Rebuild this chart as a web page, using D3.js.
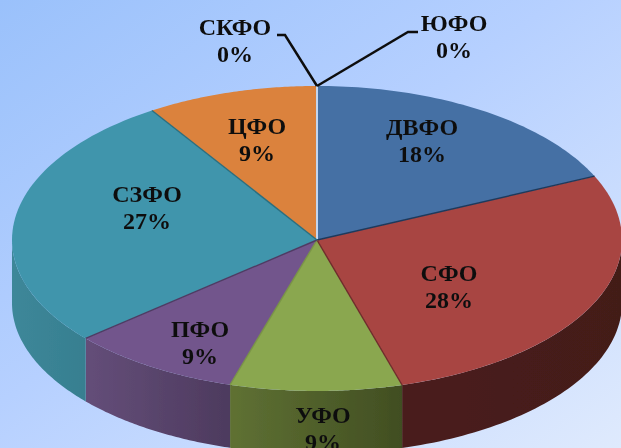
<!doctype html>
<html lang="ru">
<head>
  <meta charset="utf-8">
  <title>pie</title>
  <style>
    html, body { margin: 0; padding: 0; overflow: hidden; }
    svg { display: block; }
    text { font-family: "Liberation Serif", serif; font-weight: bold; font-size: 24px; fill: #111; text-anchor: middle; }
  </style>
</head>
<body>
  <div class="chart"></div>
  <script src="https://d3js.org/d3.v7.min.js"></script>
  <script>
    'use strict';

    const categories = ['ДВФО', 'СФО', 'УФО', 'ПФО', 'СЗФО', 'ЦФО', 'СКФО', 'ЮФО'];
    // printed labels
    const shares = [18, 28, 9, 9, 27, 9, 0, 0];
    // slice sizes as measured on the picture, a bit finer than the labels
    const sliceSizes = [18.2, 27.3, 9.1, 9.1, 27.2, 9.1, 0, 0];

    const topColors = ['#4570a4', '#a84543', '#8aa74f', '#72558c', '#4095ac', '#db823c', '#db823c', '#db823c'];
    const wallColors = {
      'СФО': ['#4a1e1b', '#431b19'],
      'УФО': ['#5f7133', '#414e22'],
      'ПФО': ['#644e79', '#4d3a5e'],
      'СЗФО': ['#3d8799', '#377f90']
    };
    const edgeColors = ['#c4d6ef', '#1f3a5c', '#6e2c2a', '#7a9446', '#4f3b63', '#2b6f80', '#8a4a1e'];
    const labelPos = [[422, 127], [449, 273], [323, 415], [200, 329], [147, 194], [257, 126], [235, 27], [454, 23]];

    const width = 621, height = 448;
    const cx = 317, cy = 240, rx = 305, ryBack = 154, ryFront = 151, depth = 63;

    const svg = d3.select('.chart').append('svg')
      .attr('width', width)
      .attr('height', height);

    const defs = svg.append('defs');
    const bg = defs.append('linearGradient').attr('id', 'bg')
      .attr('x1', 0).attr('y1', 0).attr('x2', 1).attr('y2', 1);
    bg.append('stop').attr('offset', '0%').attr('stop-color', '#9ac1fb');
    bg.append('stop').attr('offset', '45%').attr('stop-color', '#b6d0ff');
    bg.append('stop').attr('offset', '100%').attr('stop-color', '#dfeafd');

    // the reference is a slightly soft screenshot
    defs.append('filter').attr('id', 'soft')
      .append('feGaussianBlur').attr('stdDeviation', 0.45);

    svg.append('rect').attr('width', width).attr('height', height).attr('fill', 'url(#bg)');

    const root = svg.append('g').attr('filter', 'url(#soft)');

    const pie = d3.pie().sort(null).value(d => d)
      .startAngle(0).endAngle(2 * Math.PI);
    const arcs = pie(sliceSizes);

    // rim point for a pie angle, 0 is straight up; the near half is a little flatter
    const px = a => cx + rx * Math.sin(a);
    const py = a => {
      const c = Math.cos(a);
      return cy - (c > 0 ? ryBack : ryFront) * c;
    };

    function rimPoints(a0, a1) {
      return d3.range(0, 61).map(i => {
        const a = a0 + (a1 - a0) * i / 60;
        return [px(a), py(a)];
      });
    }

    const line = d3.line();

    // walls, only the front half of the rim shows
    arcs.forEach((d, i) => {
      const cols = wallColors[categories[i]];
      if (!cols) return;
      const a0 = Math.max(d.startAngle, Math.PI / 2);
      const a1 = Math.min(d.endAngle, 3 * Math.PI / 2);
      if (a1 <= a0) return;
      const gid = 'wall' + i;
      const g = defs.append('linearGradient').attr('id', gid);
      g.append('stop').attr('offset', '0%').attr('stop-color', cols[0]);
      g.append('stop').attr('offset', '100%').attr('stop-color', cols[1]);
      const upper = rimPoints(a0, a1);
      const lower = upper.map(p => [p[0], p[1] + depth]).reverse();
      root.append('path')
        .attr('d', line(upper.concat(lower)) + 'Z')
        .attr('fill', `url(#${gid})`);
    });

    // top face
    arcs.forEach((d, i) => {
      if (d.endAngle === d.startAngle) return;
      const pts = [[cx, cy]].concat(rimPoints(d.startAngle, d.endAngle));
      root.append('path')
        .attr('d', line(pts) + 'Z')
        .attr('fill', topColors[i]);
    });

    // lines between slices
    arcs.slice(0, 6).forEach((d, i) => {
      root.append('line')
        .attr('x1', cx).attr('y1', cy)
        .attr('x2', px(d.startAngle)).attr('y2', py(d.startAngle))
        .attr('stroke', edgeColors[i])
        .attr('stroke-width', i === 0 ? 2 : 1.4);
    });

    // leaders of the two empty slices
    const leaders = [
      [[277, 35], [285, 35], [cx, py(0)]],
      [[418, 32], [408, 32], [cx, py(0)]]
    ];
    leaders.forEach(l => {
      root.append('path')
        .attr('d', line(l))
        .attr('fill', 'none')
        .attr('stroke', '#111')
        .attr('stroke-width', 2.5);
    });

    const labels = root.selectAll('g.label')
      .data(categories)
      .enter().append('g')
      .attr('class', 'label')
      .attr('transform', (d, i) => `translate(${labelPos[i][0]},${labelPos[i][1]})`);
    labels.append('text').attr('y', 8).text(d => d);
    labels.append('text').attr('y', 35).text((d, i) => shares[i] + '%');
  </script>
</body>
</html>
